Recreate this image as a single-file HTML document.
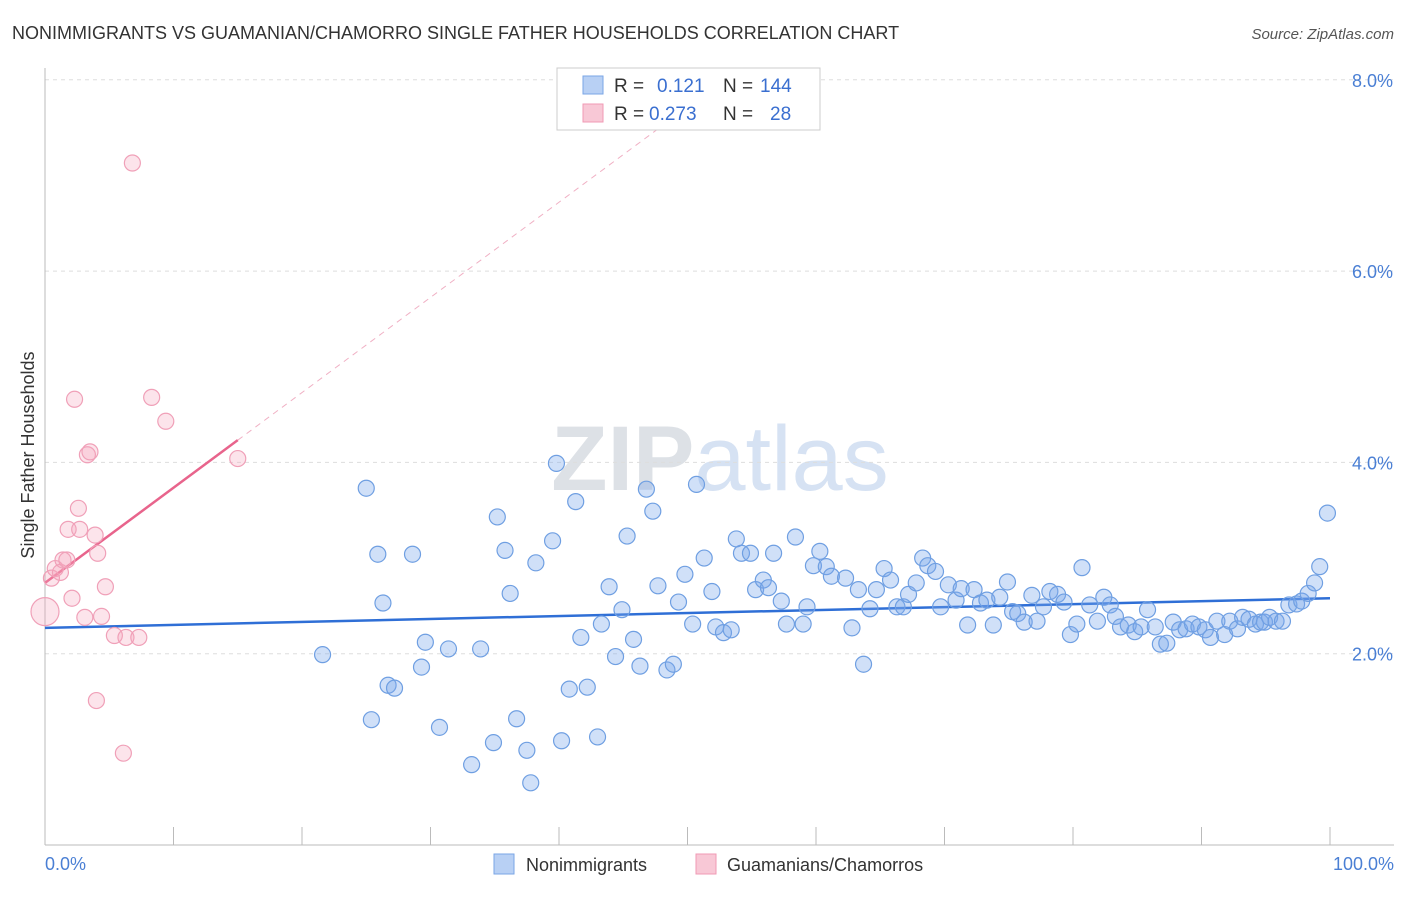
<!DOCTYPE html>
<html><head><meta charset="utf-8"><style>
body{margin:0;background:#fff;font-family:"Liberation Sans",sans-serif}
svg text{font-family:"Liberation Sans",sans-serif}
</style></head><body>
<svg id="chart" width="1406" height="892" xmlns="http://www.w3.org/2000/svg">
<text x="12" y="39" font-size="18" fill="#333">NONIMMIGRANTS VS GUAMANIAN/CHAMORRO SINGLE FATHER HOUSEHOLDS CORRELATION CHART</text>
<text x="1394" y="39" font-size="15" fill="#555" font-style="italic" text-anchor="end">Source: ZipAtlas.com</text>
<text x="720" y="490" font-size="92" fill="#e4e8ee" text-anchor="middle" font-family="Liberation Serif"><tspan font-weight="bold" fill="#dde1e6">ZIP</tspan><tspan fill="#d6e2f3" font-family="Liberation Sans">atlas</tspan></text>
<g id="grid"></g>
<g id="axes"></g>
<g id="trend"></g>
<g id="points"></g>
<text transform="translate(34,455) rotate(-90)" font-size="18" fill="#333" text-anchor="middle">Single Father Households</text>
<text x="45" y="870" font-size="18" fill="#4a7fd4">0.0%</text>
<text x="1394" y="870" font-size="18" fill="#4a7fd4" text-anchor="end">100.0%</text>
<g>
<rect x="557" y="68" width="263" height="62" fill="#fff" stroke="#ccc"/>
<rect x="583" y="76" width="20" height="18" fill="#b8d0f4" stroke="#7aa6e6"/>
<text x="614" y="92" font-size="19" fill="#333">R =</text><text x="657" y="92" font-size="19" fill="#3a6fd0">0.121</text>
<text x="723" y="92" font-size="19" fill="#333">N =</text><text x="760" y="92" font-size="19" fill="#3a6fd0">144</text>
<rect x="583" y="104" width="20" height="18" fill="#f8c8d6" stroke="#f09ab4"/>
<text x="614" y="120" font-size="19" fill="#333">R =</text><text x="649" y="120" font-size="19" fill="#3a6fd0">0.273</text>
<text x="723" y="120" font-size="19" fill="#333">N =</text><text x="770" y="120" font-size="19" fill="#3a6fd0">28</text>
</g>
<g>
<rect x="494" y="854" width="20" height="20" fill="#b8d0f4" stroke="#7aa6e6"/>
<text x="526" y="871" font-size="18" fill="#333">Nonimmigrants</text></g>
<g>
<rect x="696" y="854" width="20" height="20" fill="#f8c8d6" stroke="#f09ab4"/>
<text x="727" y="871" font-size="18" fill="#333">Guamanians/Chamorros</text></g>
</svg>
<script>
const yTicks=[2,4,6,8];
const xTicks=[0,10,20,30,40,50,60,70,80,90,100];
const blueX=[21.6,25.0,25.4,25.9,26.3,26.7,27.2,28.6,29.3,29.6,30.7,31.4,33.2,33.9,34.9,35.2,35.8,36.2,36.7,37.5,37.8,38.2,39.5,39.8,40.2,40.8,41.3,41.7,42.2,43.0,43.3,43.9,44.4,44.9,45.3,45.8,46.3,46.8,47.3,47.7,48.4,48.9,49.3,49.8,50.4,50.7,51.3,51.9,52.2,52.8,53.4,53.8,54.2,54.9,55.3,55.9,56.3,56.7,57.3,57.7,58.4,59.0,59.3,59.8,60.3,60.8,61.2,62.3,62.8,63.3,63.7,64.2,64.7,65.3,65.8,66.3,66.8,67.2,67.8,68.3,68.7,69.3,69.7,70.3,70.9,71.3,71.8,72.3,72.8,73.3,73.8,74.3,74.9,75.3,75.7,76.2,76.8,77.2,77.7,78.2,78.8,79.3,79.8,80.3,80.7,81.3,81.9,82.4,82.9,83.3,83.7,84.3,84.8,85.3,85.8,86.4,86.8,87.3,87.8,88.3,88.8,89.3,89.8,90.3,90.7,91.2,91.8,92.2,92.8,93.2,93.7,94.2,94.6,94.9,95.3,95.8,96.3,96.8,97.4,97.8,98.3,98.8,99.2,99.8];
const blueY=[1.99,3.73,1.31,3.04,2.53,1.67,1.64,3.04,1.86,2.12,1.23,2.05,0.84,2.05,1.07,3.43,3.08,2.63,1.32,0.99,0.65,2.95,3.18,3.99,1.09,1.63,3.59,2.17,1.65,1.13,2.31,2.70,1.97,2.46,3.23,2.15,1.87,3.72,3.49,2.71,1.83,1.89,2.54,2.83,2.31,3.77,3.00,2.65,2.28,2.22,2.25,3.20,3.05,3.05,2.67,2.77,2.69,3.05,2.55,2.31,3.22,2.31,2.49,2.92,3.07,2.91,2.81,2.79,2.27,2.67,1.89,2.47,2.67,2.89,2.77,2.49,2.49,2.62,2.74,3.00,2.92,2.86,2.49,2.72,2.56,2.68,2.30,2.67,2.53,2.56,2.30,2.59,2.75,2.44,2.42,2.33,2.61,2.34,2.49,2.65,2.62,2.54,2.20,2.31,2.90,2.51,2.34,2.59,2.51,2.39,2.28,2.30,2.23,2.28,2.46,2.28,2.10,2.11,2.33,2.25,2.26,2.31,2.28,2.25,2.17,2.34,2.20,2.34,2.26,2.38,2.36,2.31,2.33,2.33,2.38,2.34,2.34,2.51,2.52,2.55,2.63,2.74,2.91,3.47];
const pinkX=[0.0,0.5,0.8,1.2,1.4,1.7,1.8,2.1,2.3,2.6,2.7,3.1,3.3,3.5,3.9,4.1,4.0,4.4,4.7,5.4,6.1,6.3,6.8,7.3,8.3,9.4,15.0];
const pinkY=[2.44,2.79,2.89,2.85,2.98,2.98,3.30,2.58,4.66,3.52,3.30,2.38,4.08,4.11,3.24,3.05,1.51,2.39,2.70,2.19,0.96,2.17,7.13,2.17,4.68,4.43,4.04];
const blueTrend=[2.27,2.58];
const pinkTrend=[2.74,0.0995];
const pinkSolidEnd=15.0, pinkDashEnd=47.9;

const NS="http://www.w3.org/2000/svg";
const X0=45,X1=1330,YB=845,PX=95.65;
const sx=v=>X0+(X1-X0)*v/100;
const sy=v=>YB-v*PX;
function mk(tag,attrs,parent){const e=document.createElementNS(NS,tag);for(const k in attrs)e.setAttribute(k,attrs[k]);parent.appendChild(e);return e;}
const grid=document.getElementById('grid'),axes=document.getElementById('axes'),trend=document.getElementById('trend'),pts=document.getElementById('points');
yTicks.forEach(t=>{
 const l=mk('line',{x1:45,x2:1394,y1:sy(t),y2:sy(t),stroke:'#ddd','stroke-dasharray':'4,4'},grid);
 
 
 const tx=mk('text',{x:1393,y:sy(t)+7,'font-size':18,fill:'#4a7fd4','text-anchor':'end'},grid);
 tx.textContent=t.toFixed(1)+'%';
 
 
});
const ya=mk('line',{x1:45,x2:45,y1:68,y2:845,stroke:'#bbb'},axes);


const xa=mk('line',{x1:45,x2:1394,y1:845,y2:845,stroke:'#bbb'},axes);


xTicks.forEach(t=>{
 const l=mk('line',{x1:sx(t),x2:sx(t),y1:827,y2:845,stroke:'#bbb'},axes);
 
 
});
const bt=mk('line',{x1:sx(0),x2:sx(100),y1:sy(blueTrend[0]),y2:sy(blueTrend[1]),stroke:'#2f6fd6','stroke-width':2.5},trend);


const pf=x=>pinkTrend[0]+pinkTrend[1]*x;
const pd=mk('line',{x1:sx(pinkSolidEnd),x2:sx(pinkDashEnd),y1:sy(pf(pinkSolidEnd)),y2:sy(pf(pinkDashEnd)),stroke:'#f0b0c4','stroke-width':1,'stroke-dasharray':'6,5'},trend);


const ps=mk('line',{x1:sx(0),x2:sx(pinkSolidEnd),y1:sy(pf(0)),y2:sy(pf(pinkSolidEnd)),stroke:'#e8648c','stroke-width':2.5},trend);


blueX.forEach((x,i)=>{
 const c=mk('circle',{cx:sx(x),cy:sy(blueY[i]),r:8,fill:'rgba(120,165,235,0.35)',stroke:'#6f9fe2','stroke-width':1.2},pts);
 
 
});
pinkX.forEach((x,i)=>{
 const c=mk('circle',{cx:sx(x),cy:sy(pinkY[i]),r:i===0?14:8,fill:'rgba(245,165,190,0.3)',stroke:'#f0a0b8','stroke-width':1.2},pts);
 
 
});
</script>
</body></html>
